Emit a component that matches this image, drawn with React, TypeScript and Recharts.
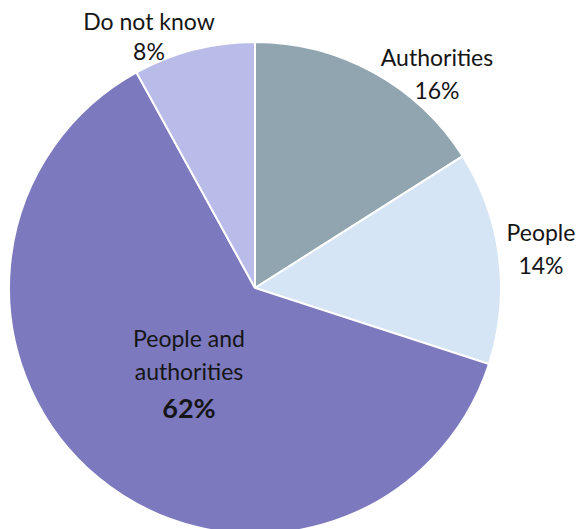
import { PieChart, Pie, Cell } from "recharts";

const categories = ["Authorities", "People", "People and authorities", "Do not know"];
const shares = [16, 14, 62, 8];
const colors = ["#91a5b0", "#d6e5f5", "#7c79be", "#b9bbe9"];

// label text lines and offset of the block centre from the pie centre
const labelLines = [
  ["Authorities", "16%"],
  ["People", "14%"],
  ["People and", "authorities", "62%"],
  ["Do not know", "8%"],
];
const labelOffsets = [
  [182, -215],
  [286, -40],
  [-66, 83],
  [-106, -252],
];

const data = categories.map((name, i) => ({ name, value: shares[i] }));

function renderLabel(props: any) {
  const { cx, cy, index } = props;
  const lines = labelLines[index];
  const [dx, dy] = labelOffsets[index];
  const lh = index === 3 ? 30 : 33;
  const top = cy + dy - ((lines.length - 1) * lh) / 2;
  return (
    <g>
      {lines.map((t, j) => {
        const big = index === 2 && j === 2;
        return (
          <text
            key={j}
            x={cx + dx}
            y={top + j * lh + (big ? 3 : 0)}
            textAnchor="middle"
            dominantBaseline="central"
            fill="#151515"
            fontFamily="Lato, 'Open Sans', sans-serif"
            fontSize={big ? 27 : 23}
            fontWeight={big ? 700 : 400}
          >
            {t}
          </text>
        );
      })}
    </g>
  );
}

export default function App() {
  return (
    <div style={{ position: "absolute", left: 0, top: 0, width: 578, height: 529, background: "#fff" }}>
      <PieChart width={578} height={529} margin={{ top: 0, right: 0, bottom: 0, left: 0 }}>
        <Pie
          data={data}
          dataKey="value"
          nameKey="name"
          cx={255}
          cy={288}
          outerRadius={246}
          startAngle={90}
          endAngle={-270}
          stroke="#ffffff"
          strokeWidth={2}
          label={renderLabel}
          labelLine={false}
          isAnimationActive={false}
        >
          {data.map((d, i) => (
            <Cell key={d.name} fill={colors[i]} />
          ))}
        </Pie>
      </PieChart>
    </div>
  );
}
